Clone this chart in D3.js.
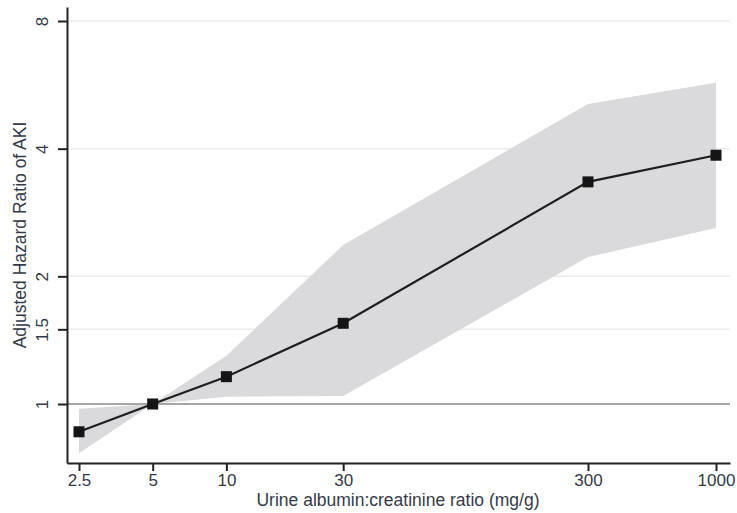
<!DOCTYPE html>
<html>
<head>
<meta charset="utf-8">
<script src="https://cdn.jsdelivr.net/npm/d3@7"></script>
<style>
  body { margin: 0; background: #fff; }
  text { font-family: "Liberation Sans", Arial, sans-serif; fill: #353a48; }
</style>
</head>
<body>
<svg id="chart" width="737" height="513"></svg>
<script>
// albumin:creatinine categories (mg/g)
const ratios = [2.5, 5, 10, 30, 300, 1000];
// adjusted hazard ratio and its confidence band
const hazard = [0.86, 1.0, 1.16, 1.55, 3.34, 3.86];
const lower = [0.765, 1.0, 1.04, 1.045, 2.22, 2.6];
const upper = [0.975, 1.0, 1.30, 2.37, 5.1, 5.72];

const xTicks = [2.5, 5, 10, 30, 300, 1000];
const yTicks = [1, 1.5, 2, 4, 8];
const gridTicks = [1.5, 2, 4, 8];

const svg = d3.select('#chart');

// tick positions first, then stretch to the full axis length
const xBase = d3.scaleLog().domain([2.5, 1000]).range([79, 716]);
const x = xBase.copy().domain([xBase.invert(67), xBase.invert(730)]).range([67, 730]);

const yBase = d3.scaleLog().base(2).domain([1, 8]).range([404, 21]);
const y = yBase.copy().domain([yBase.invert(463), yBase.invert(7)]).range([463, 7]);

const rows = ratios.map((r, i) => ({ r, hr: hazard[i], lo: lower[i], hi: upper[i] }));

// grid lines
svg.append('g')
  .selectAll('line')
  .data(gridTicks)
  .join('line')
  .attr('x1', 67)
  .attr('x2', 730)
  .attr('y1', (d) => y(d))
  .attr('y2', (d) => y(d))
  .attr('stroke', '#ebebeb')
  .attr('stroke-width', 1.5);

// confidence band
svg.append('path')
  .datum(rows)
  .attr('fill', '#dadadc')
  .attr('d', d3.area()
    .x((d) => x(d.r))
    .y0((d) => y(d.lo))
    .y1((d) => y(d.hi)));

// reference line at HR = 1
svg.append('line')
  .attr('x1', 67)
  .attr('x2', 730)
  .attr('y1', y(1))
  .attr('y2', y(1))
  .attr('stroke', '#8a8a8a')
  .attr('stroke-width', 1.5);

// estimate line
svg.append('path')
  .datum(rows)
  .attr('fill', 'none')
  .attr('stroke', '#1e1e1e')
  .attr('stroke-width', 2.2)
  .attr('d', d3.line()
    .x((d) => x(d.r))
    .y((d) => y(d.hr)));

svg.append('g')
  .selectAll('rect')
  .data(rows)
  .join('rect')
  .attr('x', (d) => x(d.r) - 5.5)
  .attr('y', (d) => y(d.hr) - 5.5)
  .attr('width', 11)
  .attr('height', 11)
  .attr('fill', '#151515');

// x axis
const xAxis = svg.append('g')
  .attr('transform', 'translate(0,463)')
  .call(d3.axisBottom(x)
    .tickValues(xTicks)
    .tickFormat(d3.format('~g'))
    .tickSize(8)
    .tickSizeOuter(0)
    .tickPadding(3));

xAxis.select('.domain').attr('stroke', '#222').attr('stroke-width', 2);
xAxis.selectAll('.tick line').attr('stroke', '#222').attr('stroke-width', 2);
xAxis.selectAll('.tick text')
  .attr('font-size', 17)
  .attr('fill', '#353a48')
  .style('font-family', '"Liberation Sans", Arial, sans-serif');

// y axis, labels turned to read upward
const yAxis = svg.append('g')
  .attr('transform', 'translate(67,0)')
  .call(d3.axisLeft(y)
    .tickValues(yTicks)
    .tickFormat(d3.format('~g'))
    .tickSize(9)
    .tickSizeOuter(0));

yAxis.select('.domain').attr('stroke', '#222').attr('stroke-width', 2);
yAxis.selectAll('.tick line').attr('stroke', '#222').attr('stroke-width', 2);
yAxis.selectAll('.tick text')
  .attr('x', null)
  .attr('dy', null)
  .attr('text-anchor', 'middle')
  .attr('transform', 'translate(-19,0) rotate(-90)')
  .attr('font-size', 17)
  .attr('fill', '#353a48')
  .style('font-family', '"Liberation Sans", Arial, sans-serif');

// axis titles
svg.append('text')
  .attr('x', 398)
  .attr('y', 506)
  .attr('text-anchor', 'middle')
  .attr('font-size', 17.5)
  .text('Urine albumin:creatinine ratio (mg/g)');

svg.append('text')
  .attr('transform', 'translate(26,235) rotate(-90)')
  .attr('text-anchor', 'middle')
  .attr('font-size', 17.5)
  .text('Adjusted Hazard Ratio of AKI');
</script>
</body>
</html>
